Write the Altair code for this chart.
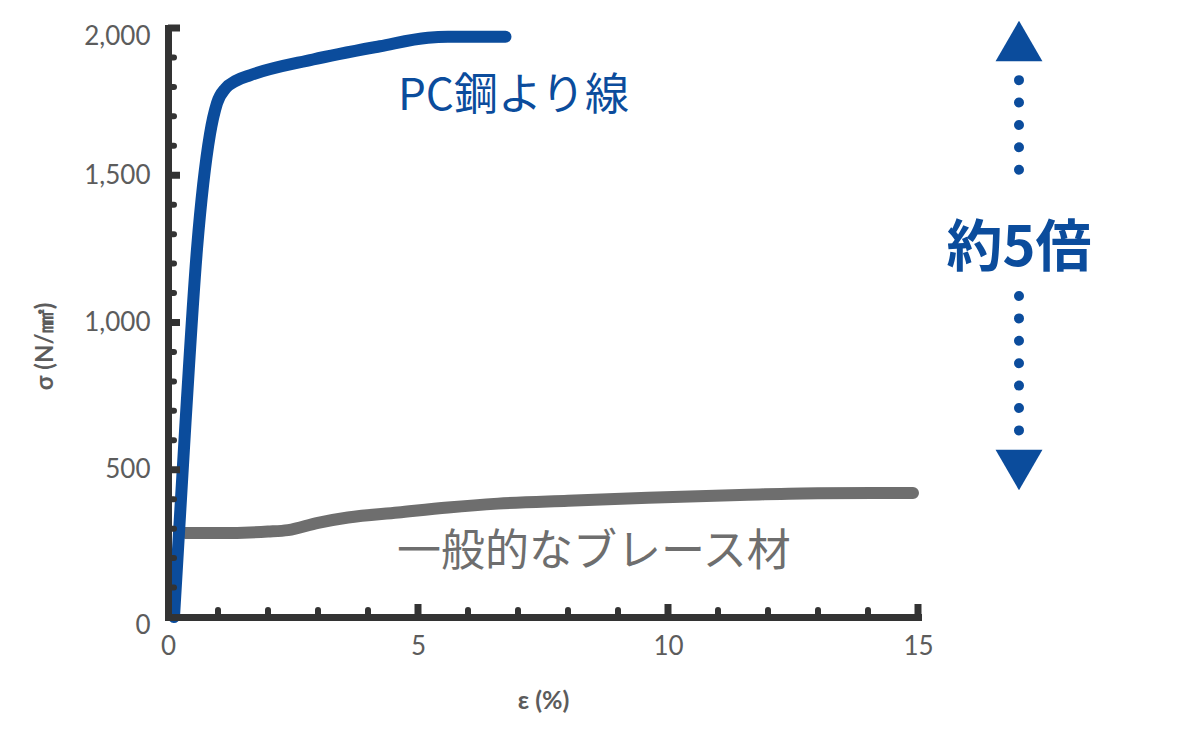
import altair as alt
import pandas as pd

# ---- data ----
blue_eps = [0.12, 0.35, 0.58, 0.84, 0.98, 1.15, 1.35, 1.65, 2.9, 4.24, 5.2, 5.6, 6.75]
blue_sig = [0, 660, 1250, 1640, 1745, 1795, 1820, 1840, 1893, 1938, 1967, 1970, 1970]

gray_eps = [0.35, 1.0, 2.0, 2.4, 3.0, 3.6, 4.6, 5.6, 6.6, 8.0, 9.6, 11.6, 13.0, 14.9]
gray_sig = [285, 285, 290, 295, 320, 338, 355, 372, 385, 395, 405, 415, 420, 421]

x_major = [0, 5, 10, 15]
x_minor = [1, 2, 3, 4, 6, 7, 8, 9, 11, 12, 13, 14]
y_major = [0, 500, 1000, 1500, 2000]
y_minor = [100, 200, 300, 400, 600, 700, 800, 900, 1100, 1200, 1300, 1400,
           1600, 1700, 1800, 1900]

label_blue = "PC鋼より線"
label_gray = "一般的なブレース材"
label_ratio = "約5倍"

BLUE = "#0b4c9c"
GRAY = "#6e6e6e"
DARK = "#333333"
W, H = 750, 589

xs = alt.Scale(domain=[0, 15], nice=False, zero=True)
ys = alt.Scale(domain=[0, 2000], nice=False, zero=True)

x_axis = alt.Axis(
    values=x_major, format="d", ticks=False, grid=False,
    domainColor=DARK, domainWidth=7, domainCap="square",
    labelFont="Lato", labelFontSize=26, labelColor="#5c5c5c", labelPadding=16,
    labelFlush=False, labelOverlap=False,
    title="ε (%)", titleFont="Lato", titleFontSize=25, titleFontWeight="bold",
    titleColor="#5c5c5c", titleY=83, titleBaseline="middle", zindex=1,
)
y_axis = alt.Axis(
    values=y_major, format=",d", ticks=False, grid=False,
    domainColor=DARK, domainWidth=7, domainCap="square",
    labelFont="Lato", labelFontSize=26, labelColor="#5c5c5c", labelPadding=18,
    labelFlush=False, labelOverlap=False,
    labelOffset={"condition": {"test": "datum.value == 2000 || datum.value == 0", "value": 8}, "value": 0},
    title="σ (N/㎟)", titleFont="Lato", titleFontSize=24, titleFontWeight="bold",
    titleColor="#5c5c5c", titleX=-123, titleY=318, titleAngle=270, titleBaseline="middle",
    zindex=1,
)

df_gray = pd.DataFrame({"eps": gray_eps, "sig": gray_sig})
df_blue = pd.DataFrame({"eps": blue_eps, "sig": blue_sig})

gray_line = alt.Chart(df_gray).mark_line(
    color=GRAY, strokeWidth=12, strokeCap="round", strokeJoin="round", interpolate="monotone"
).encode(x=alt.X("eps:Q", scale=xs, axis=x_axis), y=alt.Y("sig:Q", scale=ys, axis=y_axis))

blue_line = alt.Chart(df_blue).mark_line(
    color=BLUE, strokeWidth=12, strokeCap="round", strokeJoin="round", interpolate="monotone"
).encode(x=alt.X("eps:Q", scale=xs), y=alt.Y("sig:Q", scale=ys))

# inward ticks
xmin_t = alt.Chart(pd.DataFrame({"eps": x_minor})).mark_rule(
    color=DARK, strokeWidth=6, strokeCap="round"
).encode(x=alt.X("eps:Q", scale=xs), y=alt.value(H - 2), y2=alt.value(H - 7))
xmaj_t = alt.Chart(pd.DataFrame({"eps": x_major[1:]})).mark_rule(
    color=DARK, strokeWidth=7
).encode(x=alt.X("eps:Q", scale=xs), y=alt.value(H), y2=alt.value(H - 13))
ymin_t = alt.Chart(pd.DataFrame({"sig": y_minor})).mark_rule(
    color=DARK, strokeWidth=6, strokeCap="round"
).encode(y=alt.Y("sig:Q", scale=ys), x=alt.value(2), x2=alt.value(6))
ymaj_t = alt.Chart(pd.DataFrame({"sig": y_major[1:]})).mark_rule(
    color=DARK, strokeWidth=7
).encode(y=alt.Y("sig:Q", scale=ys), x=alt.value(0), x2=alt.value(12))

# annotations
t_blue = alt.Chart().mark_text(
    text=label_blue, font="Noto Sans CJK JP", fontSize=44, color=BLUE,
    align="left", baseline="middle"
).encode(x=alt.datum(4.6), y=alt.datum(1766))
t_gray = alt.Chart().mark_text(
    text=label_gray, font="Noto Sans CJK JP", fontSize=44, color=GRAY,
    align="left", baseline="middle"
).encode(x=alt.datum(4.58), y=alt.datum(217))
t_ratio = alt.Chart().mark_text(
    text=label_ratio, font="Noto Sans CJK JP", fontSize=56, fontWeight="bold", color=BLUE,
    align="center", baseline="middle"
).encode(x=alt.datum(17.02), y=alt.datum(1250))

dots_top = alt.Chart().mark_rule(
    color=BLUE, strokeWidth=10, strokeCap="round", strokeDash=[0, 22.4]
).encode(x=alt.datum(17.02), y=alt.datum(1823), y2=alt.datum(1443))
dots_bot = alt.Chart().mark_rule(
    color=BLUE, strokeWidth=10, strokeCap="round", strokeDash=[0, 22.4]
).encode(x=alt.datum(17.02), y=alt.datum(1090), y2=alt.datum(631))
tri_up = alt.Chart().mark_point(
    shape="triangle-up", filled=True, size=2200, color=BLUE, opacity=1
).encode(x=alt.datum(17.02), y=alt.datum(1956))
tri_dn = alt.Chart().mark_point(
    shape="triangle-down", filled=True, size=2200, color=BLUE, opacity=1
).encode(x=alt.datum(17.02), y=alt.datum(499))

chart = alt.layer(
    gray_line, blue_line, xmin_t, xmaj_t, ymin_t, ymaj_t,
    t_blue, t_gray, t_ratio, dots_top, dots_bot, tri_up, tri_dn
).properties(
    width=W, height=H,
    autosize=alt.AutoSizeParams(type="none"),
    padding={"left": 160, "top": 20, "right": 274, "bottom": 100},
    background="white",
).configure_view(stroke=None)

chart.save("out.html", embed_options={"renderer": "svg", "actions": False})
